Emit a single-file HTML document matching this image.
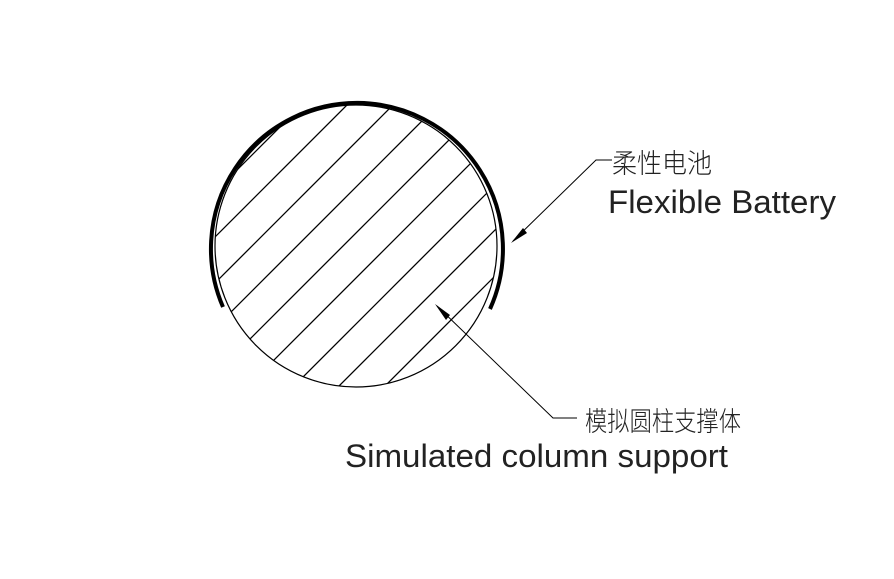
<!DOCTYPE html>
<html><head><meta charset="utf-8"><style>html,body{margin:0;padding:0;background:#fff;width:894px;height:579px;overflow:hidden}svg{display:block}</style></head>
<body>
<svg width="894" height="579" viewBox="0 0 894 579" xmlns="http://www.w3.org/2000/svg">
<defs><clipPath id="c"><circle cx="356" cy="246" r="141"/></clipPath></defs>
<rect width="894" height="579" fill="#fff"/>
<circle cx="356" cy="246" r="141" fill="none" stroke="#000" stroke-width="1.2"/>
<g clip-path="url(#c)" stroke="#000" stroke-width="1.3">
<line x1="100" y1="307" x2="407" y2="0"/>
<line x1="100" y1="352" x2="452" y2="0"/>
<line x1="100" y1="398" x2="498" y2="0"/>
<line x1="100" y1="443" x2="543" y2="0"/>
<line x1="100" y1="489" x2="589" y2="0"/>
<line x1="100" y1="534" x2="634" y2="0"/>
<line x1="100" y1="580" x2="680" y2="0"/>
<line x1="100" y1="625" x2="725" y2="0"/>
<line x1="100" y1="671" x2="771" y2="0"/>
</g>
<path d="M223 307 A146 146 0 1 1 490 309" fill="none" stroke="#000" stroke-width="4"/>
<g stroke="#000" stroke-width="1" fill="none">
<polyline points="612,160 596,160 513,241"/>
<polyline points="577,418 553,418 437,306"/>
</g>
<polygon points="511,243 523,228 527,233" fill="#000"/>
<polygon points="435,304 450,315 446,320" fill="#000"/>
<g font-family="'Liberation Sans','Noto Sans CJK SC',sans-serif" fill="#222">
<text x="612" y="173" font-size="27" textLength="100" lengthAdjust="spacingAndGlyphs" font-weight="300">柔性电池</text>
<text x="608" y="213" font-size="32" textLength="228" lengthAdjust="spacingAndGlyphs">Flexible Battery</text>
<text x="585" y="431" font-size="27" textLength="156" lengthAdjust="spacingAndGlyphs" font-weight="300">模拟圆柱支撑体</text>
<text x="345" y="467" font-size="32" textLength="383" lengthAdjust="spacingAndGlyphs">Simulated column support</text>
</g>
</svg>
</body></html>
